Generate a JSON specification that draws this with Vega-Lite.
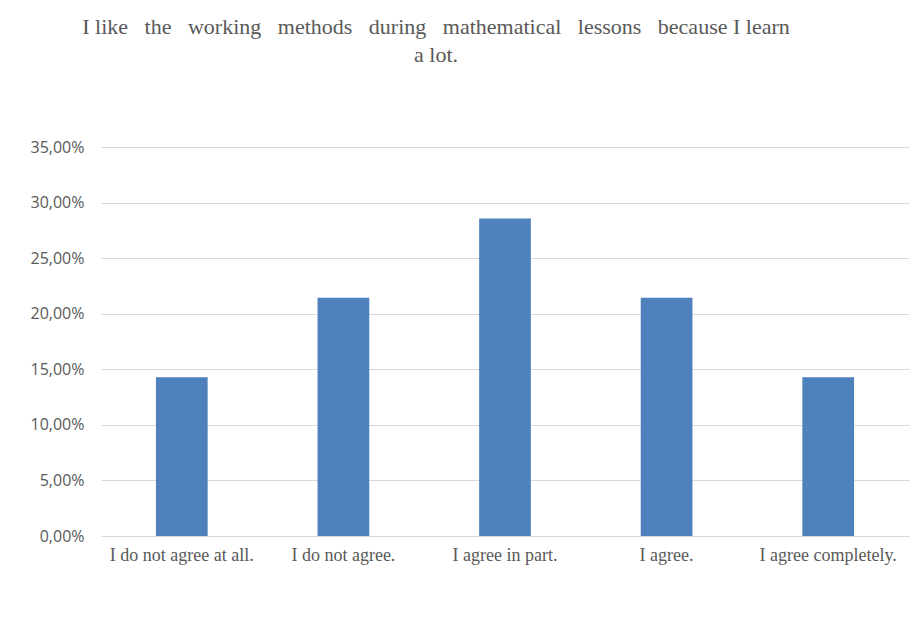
{
  "$schema": "https://vega.github.io/schema/vega-lite/v6.json",
  "autosize": "none",
  "width": 808,
  "height": 389,
  "padding": {"left": 101, "top": 147, "right": 4, "bottom": 92},
  "background": "white",
  "title": {
    "text": ["I like \u00a0\u00a0the \u00a0\u00a0working \u00a0\u00a0methods \u00a0\u00a0during \u00a0\u00a0mathematical \u00a0\u00a0lessons \u00a0\u00a0because I learn", "a lot.\u00a0\u00a0\u00a0\u00a0"],
    "font": "Liberation Serif",
    "fontSize": 22,
    "fontWeight": "normal",
    "color": "#595959",
    "anchor": "middle",
    "frame": "group",
    "dx": -69,
    "offset": 72,
    "lineHeight": 28
  },
  "data": {
    "values": [
      {"answer": "I do not agree at all.", "share": 0.1429},
      {"answer": "I do not agree.", "share": 0.2143},
      {"answer": "I agree in part.", "share": 0.2857},
      {"answer": "I agree.", "share": 0.2143},
      {"answer": "I agree completely.", "share": 0.1429}
    ]
  },
  "mark": {"type": "bar", "color": "#4F81BD"},
  "encoding": {
    "x": {
      "field": "answer",
      "type": "nominal",
      "sort": null,
      "title": null,
      "scale": {"paddingInner": 0.68, "paddingOuter": 0.34},
      "axis": {
        "labelAngle": 0,
        "labelFont": "Liberation Serif",
        "labelFontSize": 18,
        "labelColor": "#595959",
        "labelPadding": 10,
        "labelLimit": 200,
        "ticks": false,
        "domainColor": "#d9d9d9",
        "grid": false
      }
    },
    "y": {
      "field": "share",
      "type": "quantitative",
      "title": null,
      "scale": {"domain": [0, 0.35], "nice": false},
      "axis": {
        "values": [0, 0.05, 0.1, 0.15, 0.2, 0.25, 0.3, 0.35],
        "format": ".2%",
        "labelFont": "Open Sans",
        "labelFontSize": 16,
        "labelColor": "#595959",
        "labelPadding": 17,
        "ticks": false,
        "domain": false,
        "gridColor": "#d9d9d9"
      }
    }
  },
  "config": {
    "view": {"stroke": null},
    "locale": {
      "number": {"decimal": ",", "thousands": ".", "grouping": [3], "currency": ["", " €"]}
    }
  }
}
